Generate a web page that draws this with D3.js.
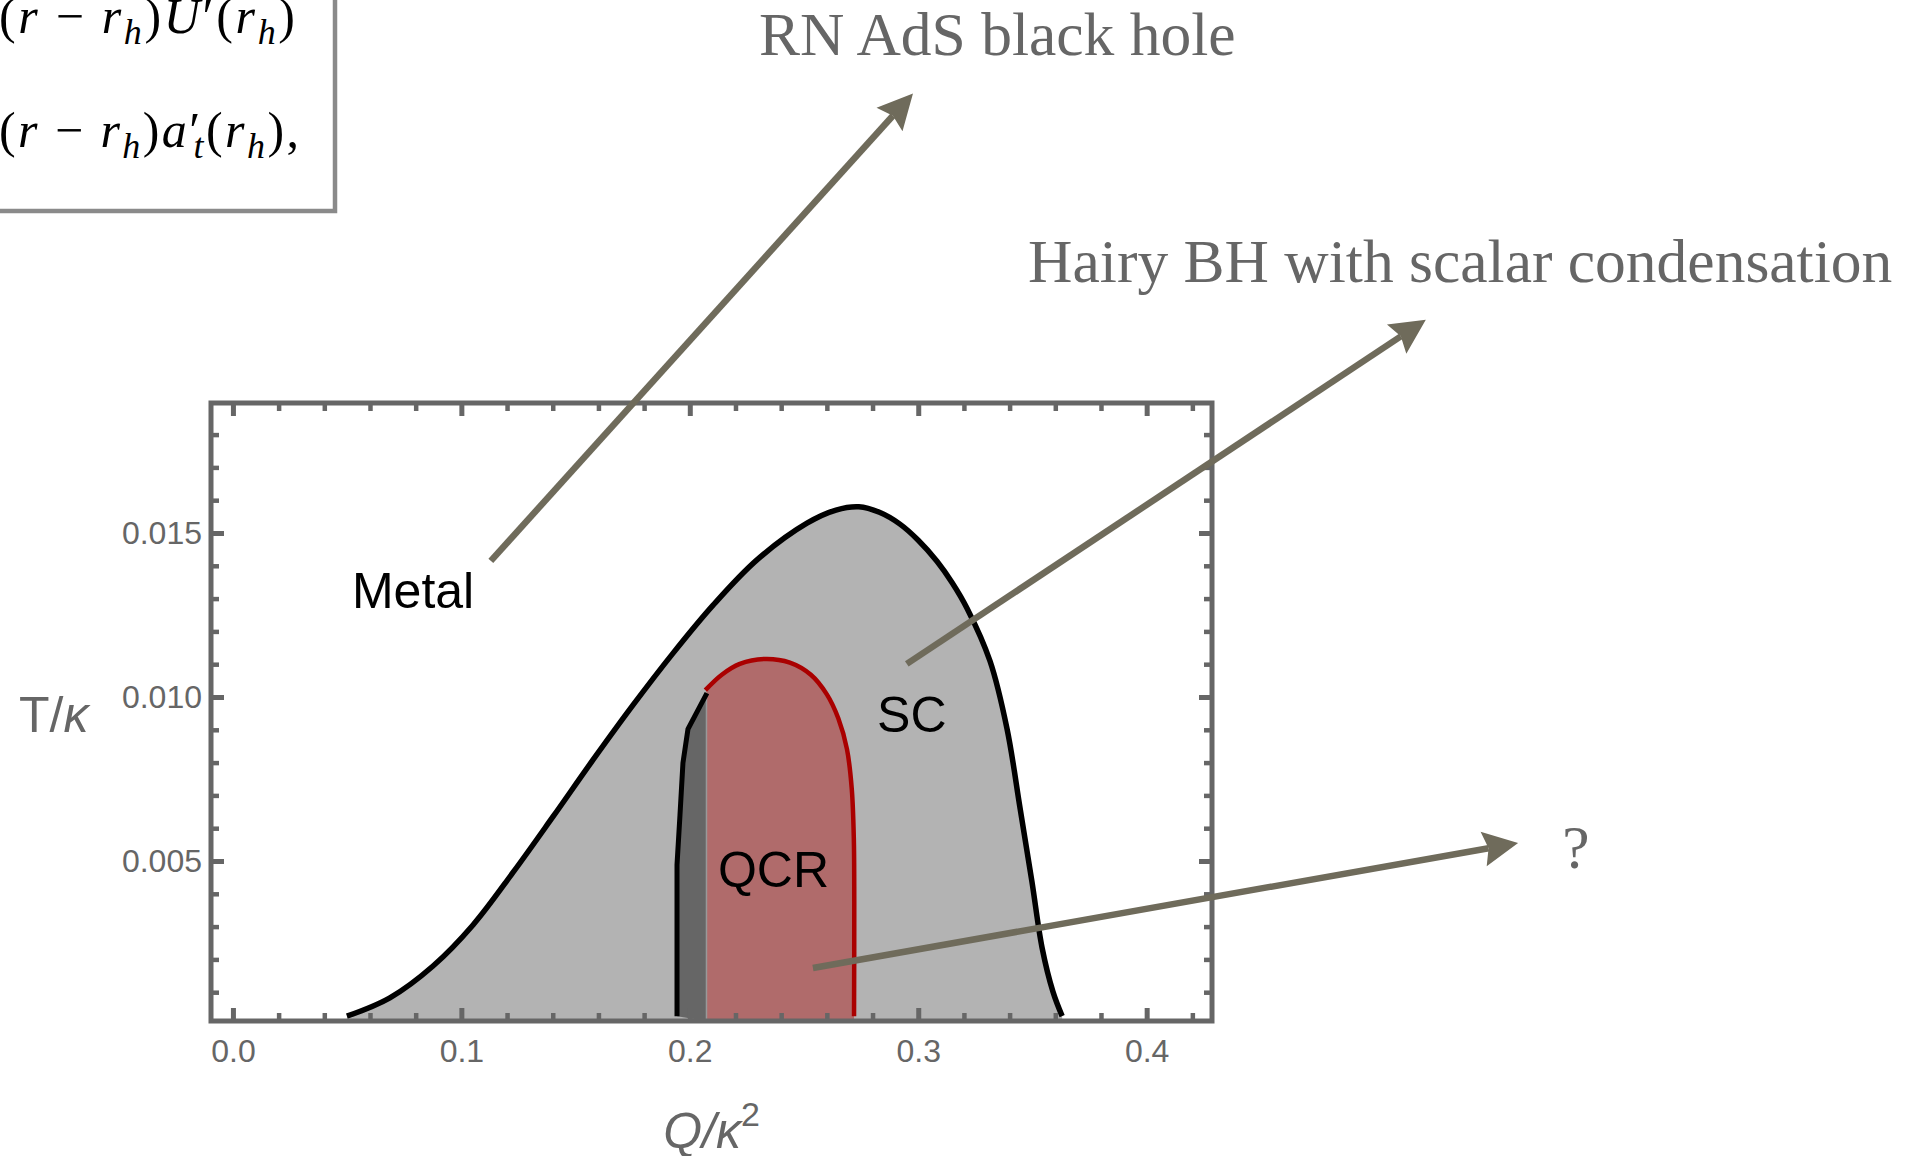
<!DOCTYPE html>
<html lang="en">
<head>
<meta charset="utf-8">
<title>Phase diagram T/κ vs Q/κ²</title>
<script src="https://cdn.jsdelivr.net/npm/d3@7"></script>
<style>
  body { margin: 0; background: #fff; }
  svg { display: block; }
  .tick text { fill: #666; font-size: 32px; font-family: "Liberation Sans", Arial, sans-serif; }
  .axlabel { fill: #666; font-size: 50px; font-family: "Liberation Sans", Arial, sans-serif; }
  .region { fill: #000; font-size: 50px; font-family: "Liberation Sans", Arial, sans-serif; }
  .note { fill: #666; font-size: 61.5px; font-family: "Liberation Serif", "Times New Roman", serif; }
  .math { fill: #000; font-size: 50px; font-family: "Liberation Serif", "Times New Roman", serif; }
</style>
</head>
<body>
<svg width="1924" height="1156"></svg>
<script>
// axis ranges and ticks
const qRange = [-0.0096, 0.4286];
const tRange = [0.000122, 0.018963];
const qTicks = [0, 0.1, 0.2, 0.3, 0.4];
const tTicks = [0.005, 0.010, 0.015];

// outer boundary Metal / SC  (Q/κ², T/κ)
const scEdge = [
  [0.0499, 0.00027], [0.0687, 0.00083], [0.0876, 0.00180], [0.1051, 0.00305],
  [0.1226, 0.00465], [0.1401, 0.00635], [0.1576, 0.00808], [0.1751, 0.00975],
  [0.1926, 0.01133], [0.2102, 0.01280], [0.2294, 0.01418], [0.2513, 0.01530],
  [0.2640, 0.01570], [0.2740, 0.01580], [0.2830, 0.01563], [0.2920, 0.01527],
  [0.3000, 0.01478], [0.3082, 0.01414], [0.3150, 0.01347], [0.3214, 0.01270],
  [0.3314, 0.01110], [0.3389, 0.00902], [0.3446, 0.00660], [0.3498, 0.00436],
  [0.3542, 0.00236], [0.3590, 0.00101], [0.3630, 0.00027]
];

// left edge of the dark strip
const gapEdge = [
  [0.2075, 0.01012], [0.1992, 0.00902], [0.1970, 0.00799], [0.1957, 0.00640],
  [0.1944, 0.00488], [0.1944, 0.00027]
];
const qcrLeft = 0.2073;

// QCR boundary (red)
const qcrEdge = [
  [0.2068, 0.01021], [0.2140, 0.01068], [0.2219, 0.01101], [0.2329, 0.01116],
  [0.2438, 0.01105], [0.2530, 0.01068], [0.2600, 0.01008], [0.2650, 0.00935],
  [0.2688, 0.00841], [0.2709, 0.00720], [0.2718, 0.00570], [0.2720, 0.00380],
  [0.2719, 0.00027]
];

// labels and arrows, in data units
const regionLabels = [
  { text: "Metal", q: 0.0521, t: 0.01271 },
  { text: "SC", q: 0.2820, t: 0.00893 },
  { text: "QCR", q: 0.2123, t: 0.00421 }
];
const notes = [
  { text: "RN AdS black hole", q: 0.2303, t: 0.02957 },
  { text: "Hairy BH with scalar condensation", q: 0.3481, t: 0.02265 },
  { text: "?", q: 0.5819, t: 0.00479 }
];
const arrows = [
  { from: [0.1129, 0.01415], to: [0.2977, 0.02840] },
  { from: [0.2950, 0.01101], to: [0.5222, 0.02150] },
  { from: [0.2539, 0.00174], to: [0.5626, 0.00555] }
];

// equation fragment cut off at the top left
const mathLines = [
  [["(", 0], ["r", 1], [" − ", 0], ["r", 1], ["h", 2], [")", 0], ["U", 1], ["′", 0],
   ["(", 0], ["r", 1], ["h", 2], [")", 0]],
  [["(", 0], ["r", 1], [" − ", 0], ["r", 1], ["h", 2], [")", 0], ["a", 1], ["′", 0], ["t", 3],
   ["(", 0], ["r", 1], ["h", 2], [")", 0], [",", 0]]
];
const mathWidths = [296, 300];

const svg = d3.select("svg");
svg.append("rect").attr("width", 1924).attr("height", 1156).attr("fill", "#fff");

const x = d3.scaleLinear().domain(qRange).range([211, 1212]);
const y = d3.scaleLinear().domain(tRange).range([1021, 403]);
const t0 = tRange[0];

// equation box
svg.append("rect")
  .attr("x", -10).attr("y", -10).attr("width", 345).attr("height", 221)
  .attr("fill", "#fff").attr("stroke", "#8a8a8a").attr("stroke-width", 4.5);

mathLines.forEach((segs, i) => {
  const txt = svg.append("text").attr("class", "math")
    .attr("x", -1).attr("y", i === 0 ? 33 : 147)
    .attr("textLength", mathWidths[i]).attr("lengthAdjust", "spacing");
  let shifted = false;
  segs.forEach(([s, kind]) => {
    const ts = txt.append("tspan").text(s);
    if (kind === 1) ts.attr("font-style", "italic");
    if (kind >= 2) {
      ts.attr("font-style", "italic").attr("font-size", 36).attr("dy", 11);
      if (kind === 3) ts.attr("dx", -9);
      shifted = true;
    } else if (shifted) {
      ts.attr("dy", -11);
      shifted = false;
    }
  });
});

// regions
const plot = svg.append("g");
const curve = d3.curveCatmullRom.alpha(0.5);

plot.append("path")
  .datum(scEdge)
  .attr("fill", "#b3b3b3")
  .attr("d", d3.area().x(d => x(d[0])).y0(y(t0)).y1(d => y(d[1])).curve(curve));

const lin = d3.line().x(d => x(d[0])).y(d => y(d[1]));
const smooth = d3.line().x(d => x(d[0])).y(d => y(d[1])).curve(curve);

plot.append("path")
  .attr("fill", "#666")
  .attr("d", lin(gapEdge.concat([[qcrLeft, t0], [qcrLeft, gapEdge[0][1]]])) + "Z");

const last = qcrEdge[qcrEdge.length - 1];
plot.append("path")
  .attr("fill", "#b06b6b")
  .attr("d", smooth(qcrEdge) + `L${x(last[0])},${y(t0)}L${x(qcrLeft)},${y(t0)}L${x(qcrLeft)},${y(qcrEdge[0][1])}Z`);

plot.append("line")
  .attr("x1", x(qcrLeft)).attr("x2", x(qcrLeft))
  .attr("y1", y(gapEdge[0][1])).attr("y2", y(t0))
  .attr("stroke", "#999").attr("stroke-width", 1.5);

plot.append("path").datum(scEdge)
  .attr("fill", "none").attr("stroke", "#000").attr("stroke-width", 5.5)
  .attr("d", smooth);

plot.append("path").datum(gapEdge)
  .attr("fill", "none").attr("stroke", "#000").attr("stroke-width", 5)
  .attr("d", lin);

plot.append("path").datum(qcrEdge)
  .attr("fill", "none").attr("stroke", "#aa0000").attr("stroke-width", 4.5)
  .attr("d", smooth);

// frame and ticks
const qMinor = d3.range(0.02, 0.43, 0.02).filter(v => Math.abs(v * 10 - Math.round(v * 10)) > 1e-6);
const tMinor = d3.range(0.001, 0.0185, 0.001).filter(v => Math.abs(v * 200 - Math.round(v * 200)) > 1e-6);

function styleAxis(g, w) {
  g.attr("color", "#666");
  g.select(".domain").remove();
  g.selectAll(".tick line").attr("stroke-width", w);
}

svg.append("g").attr("transform", `translate(0,${y.range()[0]})`)
  .call(d3.axisBottom(x).tickValues(qTicks).tickSize(-13).tickPadding(18).tickFormat(d3.format(".1f")))
  .call(styleAxis, 5);
svg.append("g").attr("transform", `translate(0,${y.range()[0]})`)
  .call(d3.axisBottom(x).tickValues(qMinor).tickSize(-8).tickFormat(""))
  .call(styleAxis, 4.5);
svg.append("g").attr("transform", `translate(0,${y.range()[1]})`)
  .call(d3.axisTop(x).tickValues(qTicks).tickSize(-13).tickFormat(""))
  .call(styleAxis, 5);
svg.append("g").attr("transform", `translate(0,${y.range()[1]})`)
  .call(d3.axisTop(x).tickValues(qMinor).tickSize(-8).tickFormat(""))
  .call(styleAxis, 4.5);

svg.append("g").attr("transform", `translate(${x.range()[0]},0)`)
  .call(d3.axisLeft(y).tickValues(tTicks).tickSize(-13).tickPadding(9).tickFormat(d3.format(".3f")))
  .call(styleAxis, 5);
svg.append("g").attr("transform", `translate(${x.range()[0]},0)`)
  .call(d3.axisLeft(y).tickValues(tMinor).tickSize(-8).tickFormat(""))
  .call(styleAxis, 4.5);
svg.append("g").attr("transform", `translate(${x.range()[1]},0)`)
  .call(d3.axisRight(y).tickValues(tTicks).tickSize(-13).tickFormat(""))
  .call(styleAxis, 5);
svg.append("g").attr("transform", `translate(${x.range()[1]},0)`)
  .call(d3.axisRight(y).tickValues(tMinor).tickSize(-8).tickFormat(""))
  .call(styleAxis, 4.5);

svg.append("rect")
  .attr("x", x.range()[0]).attr("y", y.range()[1])
  .attr("width", x.range()[1] - x.range()[0]).attr("height", y.range()[0] - y.range()[1])
  .attr("fill", "none").attr("stroke", "#666").attr("stroke-width", 5);

// axis titles
const yl = svg.append("text").attr("class", "axlabel").attr("x", 19).attr("y", (y.range()[0] + y.range()[1]) / 2 + 20);
yl.append("tspan").text("T/");
yl.append("tspan").attr("font-style", "italic").text("κ");

const xl = svg.append("text").attr("class", "axlabel")
  .attr("x", (x.range()[0] + x.range()[1]) / 2).attr("y", y.range()[0] + 127)
  .attr("text-anchor", "middle");
xl.append("tspan").attr("font-style", "italic").text("Q/κ");
xl.append("tspan").attr("font-size", 34).attr("dy", -22).text("2");

// region names
svg.selectAll(".region").data(regionLabels).join("text")
  .attr("class", "region")
  .attr("x", d => x(d.q)).attr("y", d => y(d.t))
  .text(d => d.text);

// annotations
svg.selectAll(".note").data(notes).join("text")
  .attr("class", "note")
  .attr("x", d => x(d.q)).attr("y", d => y(d.t))
  .text(d => d.text);

const L = 35, W = 17.5, N = 5;
arrows.forEach(a => {
  const x0 = x(a.from[0]), y0 = y(a.from[1]), x1 = x(a.to[0]), y1 = y(a.to[1]);
  const len = Math.hypot(x1 - x0, y1 - y0), ux = (x1 - x0) / len, uy = (y1 - y0) / len;
  const nx = -uy, ny = ux;
  svg.append("line")
    .attr("x1", x0).attr("y1", y0)
    .attr("x2", x1 - ux * (L - N)).attr("y2", y1 - uy * (L - N))
    .attr("stroke", "#6f6b5b").attr("stroke-width", 6.5);
  const head = [
    [x1, y1],
    [x1 - ux * L + nx * W, y1 - uy * L + ny * W],
    [x1 - ux * (L - N), y1 - uy * (L - N)],
    [x1 - ux * L - nx * W, y1 - uy * L - ny * W]
  ];
  svg.append("path").attr("fill", "#6f6b5b").attr("d", "M" + head.join("L") + "Z");
});
</script>
</body>
</html>
